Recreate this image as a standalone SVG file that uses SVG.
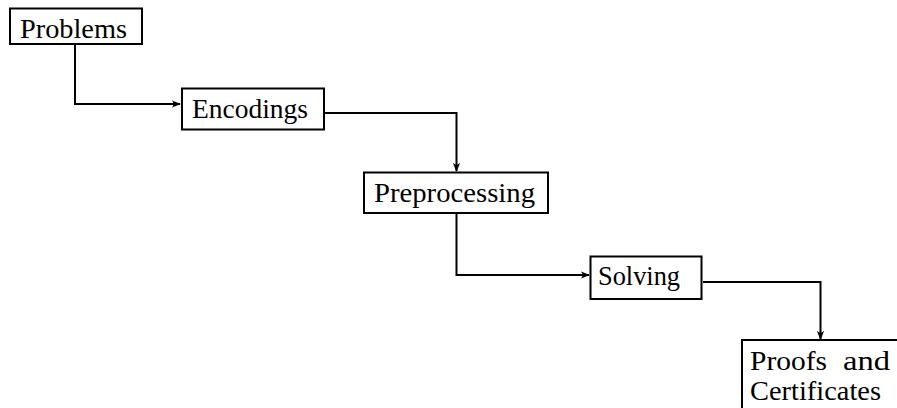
<svg xmlns="http://www.w3.org/2000/svg" width="897" height="408" viewBox="0 0 897 408">
  <defs>
    <style>
      .box { fill: #ffffff; stroke: #000000; stroke-width: 2; }
      .lbl { font-family: "Liberation Serif", "DejaVu Serif", serif; font-size: 28px; fill: #000000; }
      .edge { fill: none; stroke: #000000; stroke-width: 2; }
    </style>
    <marker id="arrow" viewBox="0 0 10 10" refX="9" refY="5" markerWidth="9" markerHeight="9" markerUnits="userSpaceOnUse" orient="auto">
      <path d="M0,1 L10,5 L0,9 L2.5,5 Z" fill="#000000"/>
    </marker>
  </defs>

  <rect width="897" height="408" fill="#ffffff"/>

  <g id="connectors">
    <path class="edge" d="M75,44 V104 H180" marker-end="url(#arrow)"/>
    <path class="edge" d="M325,113 H456.5 V171" marker-end="url(#arrow)"/>
    <path class="edge" d="M456.5,213 V275 H589" marker-end="url(#arrow)"/>
    <path class="edge" d="M703,282 H820.5 V339" marker-end="url(#arrow)"/>
  </g>

  <g id="problems">
    <rect class="box" x="10" y="8.5" width="132" height="35.5"/>
    <text class="lbl" x="20" y="38" textLength="107" lengthAdjust="spacingAndGlyphs">Problems</text>
  </g>

  <g id="encodings">
    <rect class="box" x="182" y="88.5" width="142" height="41"/>
    <text class="lbl" x="192" y="117.5" textLength="116" lengthAdjust="spacingAndGlyphs">Encodings</text>
  </g>

  <g id="preprocessing">
    <rect class="box" x="364" y="172.5" width="184" height="40.5"/>
    <text class="lbl" x="374" y="201.5" textLength="161" lengthAdjust="spacingAndGlyphs">Preprocessing</text>
  </g>

  <g id="solving">
    <rect class="box" x="590.5" y="256.5" width="111" height="42.5"/>
    <text class="lbl" x="598" y="284.5" textLength="82" lengthAdjust="spacingAndGlyphs">Solving</text>
  </g>

  <g id="proofs">
    <rect class="box" x="742" y="340" width="170" height="90"/>
    <text class="lbl" x="750" y="369.5" textLength="77" lengthAdjust="spacingAndGlyphs">Proofs</text>
    <text class="lbl" x="843" y="369.5" textLength="47" lengthAdjust="spacingAndGlyphs">and</text>
    <text class="lbl" x="750" y="400" textLength="131" lengthAdjust="spacingAndGlyphs">Certificates</text>
  </g>
</svg>
